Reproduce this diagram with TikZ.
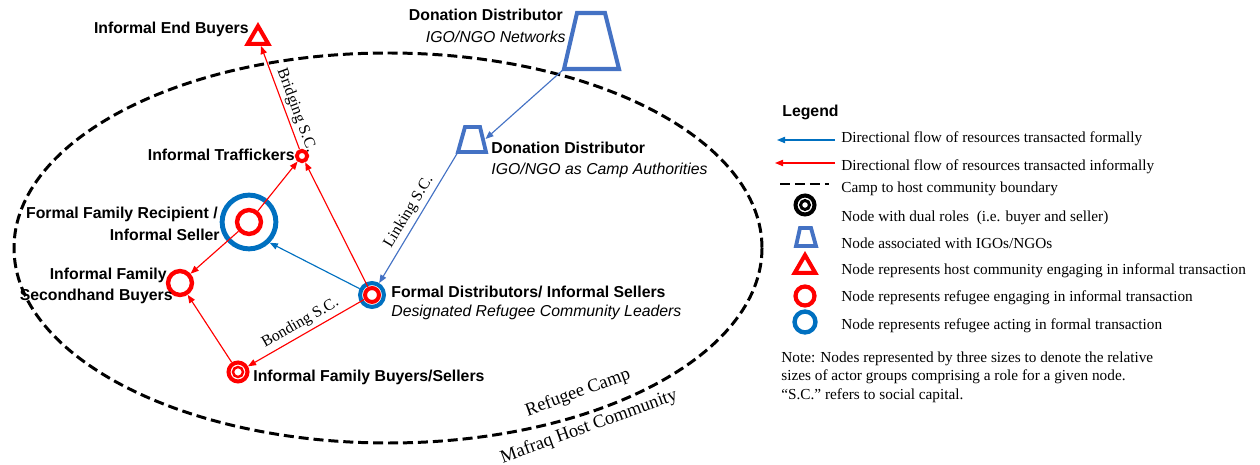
\documentclass[tikz,border=0pt]{standalone}
\usepackage{fontspec}
\setmainfont{Liberation Serif}
\newfontfamily\lsans{Liberation Sans}
\usetikzlibrary{shapes.geometric,arrows.meta}
\definecolor{infred}{HTML}{FF0000}
\definecolor{frmblue}{HTML}{0070C0}
\definecolor{ngoblue}{HTML}{4472C4}

\begin{document}
\begin{tikzpicture}[x=0.02cm,y=-0.02cm,
  >={Triangle[length=4.6pt,width=3.6pt]},
  every node/.style={inner sep=0pt},
  lbl/.style={font=\lsans\bfseries\fontsize{9}{11}\selectfont},
  sub/.style={font=\lsans\itshape\fontsize{9}{11}\selectfont},
  leg/.style={font=\fontsize{8.7}{10}\selectfont, anchor=base west},
  sc/.style={font=\fontsize{9}{11}\selectfont, text=black},
  ring/.style={circle, draw, minimum size=#1},
  ngoshape/.style={draw=ngoblue, line width=2.3pt},
  hosttri/.style={regular polygon, regular polygon sides=3, draw=infred, line width=2.3pt, minimum size=13.6pt},
  inf/.style={infred, line width=0.65pt, ->},
  frm/.style={frmblue, line width=0.65pt, ->},
  ngo/.style={ngoblue, line width=0.65pt, ->},
  boundary/.style={line width=1.7pt, dash pattern=on 5.7pt off 2.8pt},
]
\useasboundingbox (0,0) rectangle (1260,465);

% camp boundary
\draw[boundary] (388,248) ellipse [x radius=374, y radius=195];
\node[font=\fontsize{10.5}{12}\selectfont, rotate=20] (campl) at (578,393) {Refugee Camp};
\node[font=\fontsize{10.5}{12}\selectfont, rotate=20] (hostl) at (589,427) {Mafraq Host Community};

% actors
\node[hosttri] (eb) at (258,38) {};
\node[lbl, anchor=base east] (ebl) at (249,34) {Informal End Buyers};

% IGO/NGO network distributor
\coordinate (dn-bl) at (564,69); \coordinate (dn-tl) at (577,13);
\coordinate (dn-tr) at (605,13); \coordinate (dn-br) at (619,69);
\draw[ngoshape] (dn-bl) -- (dn-tl) -- (dn-tr) -- (dn-br) -- cycle;
\node[lbl, anchor=base east] (dnl) at (563,21) {Donation Distributor};
\node[sub, anchor=base east] (dns) at (566,43) {IGO/NGO Networks};

% camp authority distributor
\coordinate (dc-bl) at (458,152); \coordinate (dc-tl) at (465,127);
\coordinate (dc-tr) at (480,127); \coordinate (dc-br) at (486,152);
\coordinate (dc-e) at (485.5,139);
\draw[ngoshape, line width=2.2pt] (dc-bl) -- (dc-tl) -- (dc-tr) -- (dc-br) -- cycle;
\node[lbl, anchor=base west] (dcl) at (491,154) {Donation Distributor};
\node[sub, anchor=base west] (dcs) at (491,175) {IGO/NGO as Camp Authorities};

\node[ring=5.9pt, draw=infred, line width=2.2pt] (tr) at (302,156) {};
\node[lbl, anchor=base east] (trl) at (295,161) {Informal Traffickers};

\node[ring=30.6pt, draw=frmblue, line width=2.8pt] (ffr) at (249,222) {};
\node[ring=13.6pt, draw=infred, line width=2.5pt] (ffri) at (249,222) {};
\node[lbl, anchor=base east] (ffrl) at (218,219) {Formal Family Recipient /};
\node[lbl, anchor=base east] (ffrm) at (220,241) {Informal Seller};

\node[ring=13.6pt, draw=infred, line width=2.5pt] (sh) at (180,283) {};
\node[lbl, anchor=base east] (shl) at (167,280) {Informal Family};
\node[lbl, anchor=base east] (shm) at (173,301) {Secondhand Buyers};

\node[ring=13.6pt, draw=frmblue, line width=2.3pt] (fd) at (372,295) {};
\node[ring=7.9pt, draw=infred, line width=2.3pt] (fdi) at (372,295) {};
\node[lbl, anchor=base west] (fdl) at (391,298) {Formal Distributors/ Informal Sellers};
\node[sub, anchor=base west] (fds) at (391,317) {Designated Refugee Community Leaders};

\node[ring=10.8pt, draw=infred, line width=2.3pt] (ifbs) at (238,372) {};
\node[ring=5.7pt, draw=infred, line width=1.4pt] (ifbsi) at (238,372) {};
\node[lbl, anchor=base west] (ifbsl) at (253,382) {Informal Family Buyers/Sellers};

% resource flows
\draw[ngo] (dn-bl) -- (dc-e);
\draw[ngo] (dc-bl) -- node[sloped, above=2pt, sc] {Linking S.C.} (fd);
\draw[frm] (fd) -- (ffr.-45);
\draw[inf] (fdi) -- (tr);
\draw[inf] (ffri) -- (tr);
\draw[inf] (ffri) -- (sh);
\draw[inf, <-] (eb) -- node[pos=0.66, sloped, above=1.5pt, sc] {Bridging S.C.} (tr);
\draw[inf, <-] (ifbs) -- node[sloped, above=2pt, sc] {Bonding S.C.} (fdi);
\draw[inf] (ifbs) -- (sh);

% legend
\node[lbl, anchor=base west] (lgt) at (782,117) {Legend};
\coordinate (lfs) at (835,140); \coordinate (lfe) at (777,140);
\draw[frm] (lfs) -- (lfe);
\node[leg] (lf) at (841,143) {Directional flow of resources transacted formally};
\coordinate (lis) at (835,163); \coordinate (lie) at (775,163);
\draw[inf] (lis) -- (lie);
\node[leg] (li) at (841,171) {Directional flow of resources transacted informally};
\coordinate (lbs) at (780,184); \coordinate (lbe) at (829,184);
\draw[boundary] (lbs) -- (lbe);
\node[leg] (lb) at (841,193) {Camp to host community boundary};
\node[ring=10.8pt, draw=black, line width=2.3pt] (ldo) at (805,205) {};
\node[ring=5.1pt, draw=black, line width=1.7pt] (ldi) at (805,205) {};
\node[leg] (ld) at (841,222) {Node with dual roles~ (i.e. buyer and seller)};
\coordinate (lt-bl) at (796,246); \coordinate (lt-tl) at (800,228);
\coordinate (lt-tr) at (811,228); \coordinate (lt-br) at (816,246);
\draw[ngoshape, line width=2.2pt] (lt-bl) -- (lt-tl) -- (lt-tr) -- (lt-br) -- cycle;
\node[leg] (ln) at (841,249) {Node associated with IGOs/NGOs};
\node[hosttri] (lht) at (805,267) {};
\node[leg] (lh) at (841,275) {Node represents host community engaging in informal transaction};
\node[ring=10.8pt, draw=infred, line width=2.4pt] (lrc) at (805,296) {};
\node[leg] (lr) at (841,302) {Node represents refugee engaging in informal transaction};
\node[ring=11.9pt, draw=frmblue, line width=2.5pt] (lfc) at (805,322) {};
\node[leg] (lfr) at (841,330) {Node represents refugee acting in formal transaction};

\node[leg] (nt1) at (781,363) {Note: Nodes represented by three sizes to denote the relative};
\node[leg] (nt2) at (781,381) {sizes of actor groups comprising a role for a given node.};
\node[leg] (nt3) at (781,399) {“S.C.” refers to social capital.};
\end{tikzpicture}
\end{document}
